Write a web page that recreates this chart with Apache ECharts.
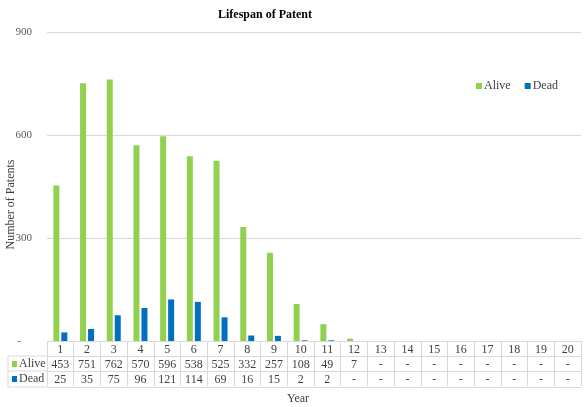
<!DOCTYPE html>
<html>
<head>
<meta charset="utf-8">
<script src="https://cdn.jsdelivr.net/npm/echarts@6/dist/echarts.min.js"></script>
<style>
  * { margin: 0; padding: 0; }
  body { background: #fff; }
</style>
</head>
<body>
<div id="chartId" style="width: 585px; height: 407px"></div>
<script>
// data
var years = ["1", "2", "3", "4", "5", "6", "7", "8", "9", "10", "11", "12", "13", "14", "15", "16", "17", "18", "19", "20"];
var alive = [453, 751, 762, 570, 596, 538, 525, 332, 257, 108, 49, 7, null, null, null, null, null, null, null, null];
var dead = [25, 35, 75, 96, 121, 114, 69, 16, 15, 2, 2, null, null, null, null, null, null, null, null, null];
var yTicks = [0, 300, 600, 900];

var serif = "Liberation Serif";
var green = "#92D050";
var blue = "#0070C0";
var border = "#d9d9d9";

function cell(v) {
  return v == null ? "-" : String(v);
}

// one bottom axis per table row, stacked with offset
function tableAxis(offset, rowData) {
  return {
    type: "category",
    data: years,
    position: "bottom",
    offset: offset,
    axisLine: { show: true, lineStyle: { color: border } },
    axisTick: { show: true, length: 15, lineStyle: { color: border } },
    axisLabel: {
      show: true,
      margin: 3,
      fontFamily: serif,
      fontSize: 12,
      color: "#404040",
      interval: 0,
      formatter: function (value, index) {
        return rowData ? cell(rowData[index]) : value;
      },
    },
  };
}

var chart = echarts.init(document.getElementById("chartId"));

var bottomAxis = {
  type: "category",
  data: years,
  position: "bottom",
  offset: 46,
  axisLine: { show: true, lineStyle: { color: border } },
  axisTick: { show: false },
  axisLabel: { show: false },
  name: "Year",
  nameLocation: "middle",
  nameGap: 6,
  nameMoveOverlap: false,
  nameTextStyle: {
    fontFamily: serif,
    fontSize: 12,
    color: "#404040",
    verticalAlign: "top",
    padding: [0, 32, 0, 0],
  },
};

var option = {
  animation: false,
  title: {
    text: "Lifespan of Patent",
    left: 213,
    top: 4,
    textStyle: { fontFamily: serif, fontSize: 12, fontWeight: "bold", color: "#000" },
  },
  legend: {
    data: ["Alive", "Dead"],
    left: 471,
    top: 75,
    itemWidth: 6,
    itemHeight: 6,
    itemGap: 14,
    icon: "rect",
    textStyle: { fontFamily: serif, fontSize: 12, color: "#404040", padding: [0, 0, 0, -3] },
  },
  grid: { left: 47, right: 4, top: 32, bottom: 66, containLabel: false, outerBoundsMode: "none" },
  xAxis: [
    tableAxis(0, null),
    tableAxis(15, alive),
    tableAxis(30, dead),
    bottomAxis,
  ],
  yAxis: {
    type: "value",
    min: 0,
    max: 900,
    interval: 300,
    axisLine: { show: false },
    axisTick: { show: false },
    splitLine: { lineStyle: { color: border } },
    axisLabel: {
      margin: 15,
      fontFamily: serif,
      fontSize: 11,
      color: "#595959",
      formatter: function (v) {
        return v === yTicks[0] ? "-    " : String(v);
      },
    },
    name: "Number of Patents",
    nameLocation: "middle",
    nameRotate: 90,
    nameGap: 30,
    nameMoveOverlap: false,
    nameTextStyle: {
      fontFamily: serif,
      fontSize: 12,
      color: "#404040",
      padding: [0, 36, 0, 0],
    },
  },
  series: [
    {
      name: "Alive",
      type: "bar",
      xAxisIndex: 0,
      data: alive,
      barWidth: 6,
      barGap: "33%",
      itemStyle: { color: green },
    },
    {
      name: "Dead",
      type: "bar",
      xAxisIndex: 0,
      data: dead,
      barWidth: 6,
      itemStyle: { color: blue },
    },
  ],
  // left header column of the data table
  graphic: [
    { type: "line", shape: { x1: 8, y1: 356, x2: 47, y2: 356 }, style: { stroke: border } },
    { type: "line", shape: { x1: 8, y1: 371, x2: 47, y2: 371 }, style: { stroke: border } },
    { type: "line", shape: { x1: 8, y1: 387, x2: 47, y2: 387 }, style: { stroke: border } },
    { type: "line", shape: { x1: 8, y1: 356, x2: 8, y2: 387 }, style: { stroke: border } },
    { type: "rect", shape: { x: 12, y: 361, width: 5, height: 6 }, style: { fill: green } },
    { type: "rect", shape: { x: 12, y: 376, width: 5, height: 6 }, style: { fill: blue } },
    {
      type: "text", left: 19, top: 358,
      style: { text: "Alive", font: "12px " + serif, fill: "#404040" },
    },
    {
      type: "text", left: 19, top: 373,
      style: { text: "Dead", font: "12px " + serif, fill: "#404040" },
    },
  ],
};

chart.setOption(option);
</script>
</body>
</html>
